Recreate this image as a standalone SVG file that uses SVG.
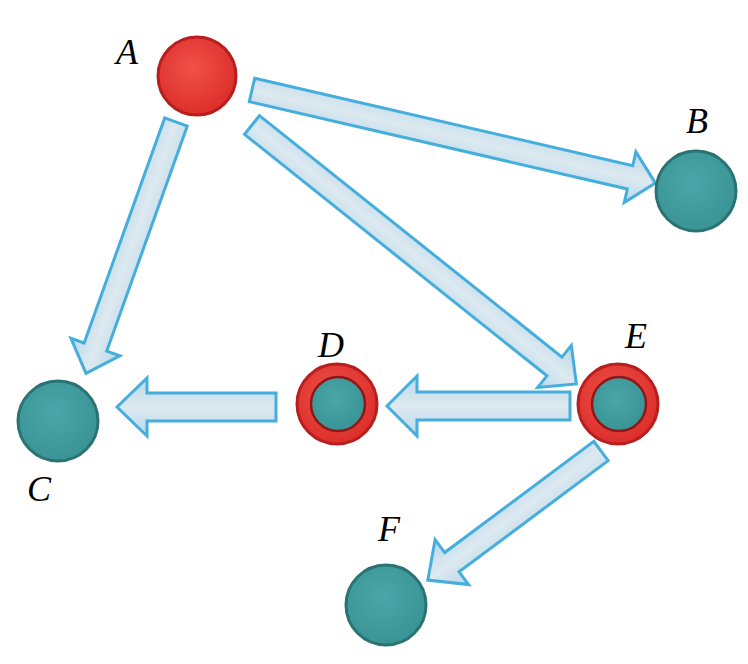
<svg xmlns="http://www.w3.org/2000/svg" width="748" height="664" viewBox="0 0 748 664">
<defs>
<linearGradient id="arrowFill" x1="0" y1="0" x2="0" y2="1">
<stop offset="0" stop-color="#b9d9ea"/>
<stop offset="0.5" stop-color="#dde9f0"/>
<stop offset="1" stop-color="#b9d9ea"/>
</linearGradient>
<radialGradient id="redFill" cx="0.45" cy="0.4" r="0.6">
<stop offset="0" stop-color="#f0524a"/>
<stop offset="1" stop-color="#dc2e2a"/>
</radialGradient>
<radialGradient id="tealFill" cx="0.45" cy="0.4" r="0.6">
<stop offset="0" stop-color="#4aa6a8"/>
<stop offset="1" stop-color="#3a9496"/>
</radialGradient>
</defs>
<style>
.arrow{fill:url(#arrowFill);stroke:#45aedc;stroke-width:3;stroke-linejoin:miter}
.teal{fill:url(#tealFill);stroke:#2b7373;stroke-width:3}
.red{fill:url(#redFill);stroke:#b81e1e;stroke-width:3}
.inner{fill:url(#tealFill);stroke:#8e1818;stroke-width:2.5}
.lbl{font-family:"Liberation Serif","Times New Roman",serif;font-style:italic;font-size:36px;fill:#000}
</style>
<rect width="748" height="664" fill="#ffffff"/>
<g id="connectors">
<polygon class="arrow" transform="translate(252,90) rotate(13)" points="0,-12 388,-12 388,-26 414,0 388,26 388,12 0,12"/>
<polygon class="arrow" transform="translate(176,122) rotate(109.7)" points="0,-12 239,-12 239,-26 267,0 239,26 239,12 0,12"/>
<polygon class="arrow" transform="translate(252,125) rotate(38.6)" points="0,-12 387,-12 387,-27 415,0 387,27 387,12 0,12"/>
<polygon class="arrow" transform="translate(570,406) rotate(180)" points="0,-14 153,-14 153,-30 183,0 153,30 153,14 0,14"/>
<polygon class="arrow" transform="translate(276,407) rotate(180)" points="0,-14 129,-14 129,-29 159,0 129,29 129,14 0,14"/>
<polygon class="arrow" transform="translate(601,451) rotate(143.3)" points="0,-12 186,-12 186,-28 216,0 186,28 186,12 0,12"/>
</g>
<g id="node-A">
<circle class="red" cx="197" cy="76" r="39"/>
<text class="lbl" x="116" y="64">A</text>
</g>
<g id="node-B">
<circle class="teal" cx="696" cy="191" r="40"/>
<text class="lbl" x="686" y="133">B</text>
</g>
<g id="node-C">
<circle class="teal" cx="58" cy="421" r="40"/>
<text class="lbl" x="27" y="501">C</text>
</g>
<g id="node-D">
<circle class="red" cx="337" cy="404" r="40"/>
<circle class="inner" cx="338" cy="404" r="27"/>
<text class="lbl" x="318" y="357">D</text>
</g>
<g id="node-E">
<circle class="red" cx="618" cy="404" r="40"/>
<circle class="inner" cx="619" cy="404" r="27"/>
<text class="lbl" x="625" y="348">E</text>
</g>
<g id="node-F">
<circle class="teal" cx="386" cy="605" r="40"/>
<text class="lbl" x="378" y="541">F</text>
</g>
</svg>
